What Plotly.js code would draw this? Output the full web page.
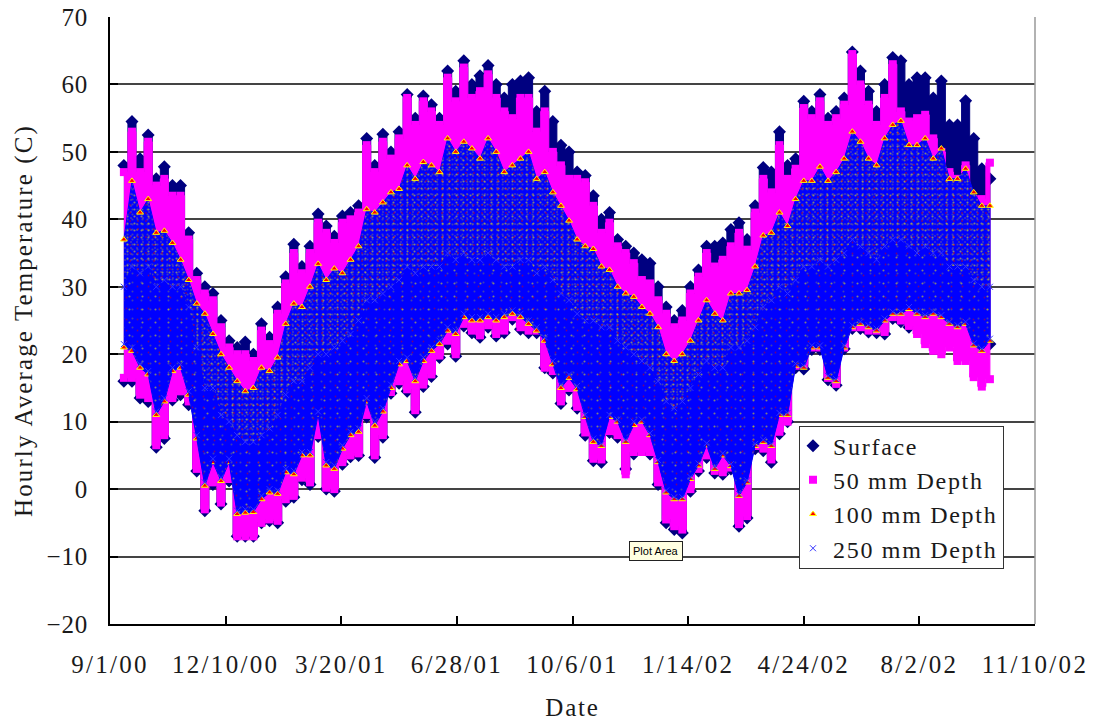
<!DOCTYPE html>
<html><head><meta charset="utf-8">
<script src="https://cdn.plot.ly/plotly-3.0.1.min.js"></script>
<style>
html,body{margin:0;padding:0;background:#fff}
.ytick text{letter-spacing:.8px}
.xtick text{letter-spacing:2.3px}
.ytitle{letter-spacing:2.1px}
.xtitle{letter-spacing:1.8px}
.legendtext{letter-spacing:1.7px}
</style></head><body><div id="chart" style="width:1093px;height:721px"></div>
<script>
const days=[12,19,26,33,40,47,54,61,68,75,82,89,96,103,110,117,124,131,138,145,152,159,166,173,180,187,194,201,208,215,222,229,236,243,250,257,264,271,278,285,292,299,306,313,320,327,334,341,348,355,362,369,376,383,390,397,404,411,418,425,432,439,446,453,460,467,474,481,488,495,502,509,516,523,530,537,544,551,558,565,572,579,586,593,600,607,614,621,628,635,642,649,656,663,670,677,684,691,698,705,712,719,726,733,740,747,754,761];
const surfaceHigh=[48,54.5,49,52.5,46,47.8,45,45,38,32,30,29,25,22,21,21.8,20,24.5,22.5,27,31.5,36.3,33,36,40.8,39,37.5,40.5,41,42,52,48,52.6,50,53,58.5,55,58.3,57,55,62,59,63.5,60,61.3,62.8,60,58,60,60.5,61,56,59,54.5,51,50,47,46.5,43.5,40,41,37,36,35,34,33.5,30,27,25,26.5,30,32.5,36,36,36.5,38.5,39.5,37,42,47.7,47,53,48,49,57.5,56,58.5,55,56,58,64.8,62,59,56,60,64,63.5,60,61,61,58,60.5,54,54,57.6,52,47.5,46];
const surfaceLow=[16,16,13.5,13,6.2,7.5,13.2,14,12.5,2.7,-3.2,0.7,-2.2,1.2,-7,-7,-7,-5,-4.7,-5,-1.8,-1.2,1.4,0.7,7.8,0,-0.3,3.7,4.8,5,10.7,4.7,7.7,14.2,15.7,14.5,11.4,15.2,16.7,19.5,21.5,19.7,24.2,23.2,22.5,24,22.7,23.2,25.2,23.7,23.2,23.2,18,17.2,12.7,14.7,12,8,4.2,4,8.4,7.7,3,5.2,8,5.2,0.7,-5,-6,-6.5,-0.3,2.7,4.7,2.4,2.2,3,-5.5,-4.3,6,5.7,4,8.2,10,18,17.8,20.7,20.7,16.2,15.4,20.8,23.8,23.8,23.3,23.2,23,25.3,24.8,24,24.5,24.5,24.5,24.5,24,24,24,21,20.3,21.5];
const mm50High=[47,53,47,51.5,45,46,43.5,43.5,37,31,29,28,24,21,20,20,19,23.5,21.5,26,30.5,35,32,35,39.5,38,36.5,39.5,40,41,51,47,51.5,49,52,58,54,57.5,56,54,61,57.5,62.5,58,59,61.5,58,56,55,58,58,53,56,50,48,46,46,45.5,42,38,39.5,36,35,33.5,31,30.5,28,26,24,25,29,31.5,35,33,34,36,38,35.5,41,46,44,51,46,47.5,56.5,55,57.5,54,55,57,64.5,60,57,54,58,63,56,54.5,55,55.5,52,50,47,46,48,43,43,48.4];
const mm50Low=[16.5,16.5,14,13.5,6.5,8,13.5,14.5,13,3,-3,1,-2,1.5,-7,-7,-7,-5,-4.5,-4.7,-1.5,-1,1.7,1,8,0.2,0,4,5,5.3,11,5,8,14.4,16,14.8,11.7,15.5,17,19.8,22,20,24.5,23.5,22.8,24.3,23,23.5,25.5,24,23.5,23.5,18,17.5,13,15,12.2,8.4,4.5,4.4,8.6,8,2.2,5.5,5.5,5.5,1,-4.5,-5.5,-6,0,3,5,2.7,2.5,3.2,-5.2,-4,6.4,6,4.4,8.5,10,18.3,18.5,21,21,16.5,15.6,21,24,24,23.5,23.5,23.3,25.5,25,24.2,23,21.5,20.5,20,21,19,19,16.6,15.2,16.3];
const mm100High=[37,45.7,41,43,38,38.3,36.5,34,31,27.5,26,23,20,18,16,14.5,15,18,17.5,19.5,24.5,27.5,27,30,33.4,31,32.7,32,34,36,41.5,41,42.5,44,44.5,48,46,48.5,48,47,52,50,51.5,50.5,49,52,50,47,48,49,50,46,47,44,42,39.8,37,36,35.6,33,32.5,30,29,28.5,27,26,24,20,19,20,22,25,28,26,25,29,29,29.5,33,37.6,38,41,39,43,45.7,45.7,47.8,45.7,47,49,53,51.5,49,48,52,54,54.6,51,51,52,49,50.5,46,46,47.5,44,42,42];
const mm100Low=[21,20.5,18,17,11,13,17.5,18,14,7.5,0.5,4,1.2,4,-3.7,-3.5,-3.4,-1.5,-0.5,-0.7,2.5,2.2,5,5,11,3.5,3,6,8,8.5,13,9.4,11.5,15,18.5,19,16,19,20.5,21.5,23.5,23,25.5,25,25,25.5,25,25.5,26,25.5,24.5,23.5,22,18.5,15,16.5,14.8,10.7,7,6.4,10.7,10,7,9.5,10,8,4,-0.5,-1.5,-1.5,1.5,3.5,6.5,3,5,3.4,-1,1,6.4,7,6.4,11,11,18.3,18,21,21,16.5,16,21,24,24.5,24,23.5,25,26,26,26.7,26,25.5,26,25.5,24.5,24,24.5,21.3,20.5,22];
const mm250High=[30,33,32,33,30,31,30,30,27,21,15,15,11,10,8,7,7,8,9,11,14,16,16,18,20,20,21,22,23,25,28,28,29,30,31,33,32,33,33,33,35,34,35,34,34,35,34,33,33,34,34,32,33,31,29,28,26,25,25,24,24,22,21,20,19,18,16,13,12,13,15,17,19,18,18,21,21,22,24,27,28,30,29,31,33,33,34,33,34,35,37,36,35,34,36,37,37,36,35,36,35,35,33,33,33,31,30,30];
const mm250Low=[21.5,21,18.5,17.5,11.5,13.5,18,18.5,14.5,8,1,4.5,1.7,4.5,-3.2,-3,-3,-1,0,-0.2,3,2.7,5.5,5.5,11.5,4,3.5,6.5,8.5,9,13.5,10,12,15.5,19,19.5,16.5,19.5,21,22,24,23.5,26,25.5,25.5,26,25.5,26,26.5,26,25,24,22.5,19,15.5,17,15.3,11,7.5,6.7,11,10.3,7.3,10,10.3,8.3,4.3,-0.2,-1.2,-1.2,1.8,3.8,6.8,3.3,5.3,3.7,-0.7,1.3,6.7,7.3,6.7,11.3,11.3,18.6,18.3,21.3,21.3,16.8,16.3,21.3,24.3,24.8,24.3,23.8,25.3,26.3,26.3,27,26.3,25.8,26.3,25.8,24.8,24.3,24.8,21.6,20.8,22.3];
const legendNames=['Surface','50 mm Depth','100 mm Depth','250 mm Depth'];
const xTickVals=[0,100,200,300,400,500,600,700,800];
const xTickText=['9/1/00','12/10/00','3/20/01','6/28/01','10/6/01','1/14/02','4/24/02','8/2/02','11/10/02'];
const yTickVals=[-20,-10,0,10,20,30,40,50,60,70];

const ringX=days.concat(days.slice().reverse());
const ring=(hi,lo)=>hi.concat(lo.slice().reverse());
const px2=days.concat(days);
function band(hi,lo,color,shape){return {x:ringX,y:ring(hi,lo),mode:'lines',fill:'toself',fillcolor:color,
  line:{color:color,width:1,shape:shape},hoverinfo:'skip',showlegend:false,type:'scatter'};}
function speck(hi,lo,fg,size,solidity,shape){return {x:ringX,y:ring(hi,lo),mode:'none',fill:'toself',fillcolor:'rgba(0,0,0,0)',
  fillpattern:{shape:shape||'.',fillmode:'overlay',bgcolor:'rgba(0,0,0,0)',fgcolor:fg,size:size,solidity:solidity},hoverinfo:'skip',showlegend:false,type:'scatter'};}
function dots(hi,lo,name,marker){return {x:px2,y:hi.concat(lo),mode:'markers',name:name,marker:marker,type:'scatter',hoverinfo:'skip'};}

const data=[
 band(surfaceHigh,surfaceLow,'#000080','hvh'),
 dots(surfaceHigh,surfaceLow,legendNames[0],{symbol:'diamond',size:10,color:'#000080'}),
 band(mm50High,mm50Low,'#ff00ff','hvh'),
 dots(mm50High,mm50Low,legendNames[1],{symbol:'square',size:8,color:'#ff00ff'}),
 band(mm100High,mm100Low,'#0000ff','linear'),
 speck(mm100High,mm100Low,'#808060',5,0.14),
 speck(mm100High,mm100Low,'#ffff00',7,0.07),
 speck(mm100High,mm100Low,'#ffcc00',6,0.05),
 speck(mm100High,mm100Low,'#e00000',8,0.05),
 dots(mm100High,mm100Low,legendNames[2],{symbol:'triangle-up',size:6,color:'#ff0000',line:{color:'#ffff00',width:1}}),
 band(mm250High,mm250Low,'#0000ff','linear'),
 speck(mm250High,mm250Low,'#808060',9,0.04),
 speck(mm250High,mm250Low,'#ffff00',13,0.02),
 speck(mm250High,mm250Low,'#e00000',11,0.02),
 dots(mm250High,mm250Low,legendNames[3],{symbol:'x-thin',size:6,color:'#5555ff',line:{color:'#3333ff',width:1}})
];
const font={family:'"Liberation Serif",serif',size:25,color:'#1a1a1a'};
const layout={
 width:1093,height:721,paper_bgcolor:'#fff',plot_bgcolor:'#fff',font:font,showlegend:true,
 margin:{l:110,r:58,t:17,b:97,pad:0},
 xaxis:{range:[0,800],tickmode:'array',tickvals:xTickVals,ticktext:xTickText,ticks:'inside',ticklen:8,tickwidth:2,tickcolor:'#000',
   showline:true,linecolor:'#000',linewidth:2,showgrid:false,zeroline:false,ticklabelstandoff:17,
   title:{text:'Date',standoff:21,font:font}},
 yaxis:{range:[-20,70],tickmode:'array',tickvals:yTickVals,ticks:'inside',ticklen:8,tickwidth:2,tickcolor:'#000',
   showline:true,linecolor:'#000',linewidth:2,showgrid:true,gridcolor:'#444',gridwidth:1.5,zeroline:false,ticklabelstandoff:15,
   title:{text:'Hourly Average Temperature (C)',standoff:7,font:font}},
 legend:{x:0.7373,y:0.3319,xanchor:'left',yanchor:'top',bgcolor:'#fff',bordercolor:'#333',borderwidth:1,font:Object.assign({},font,{size:24}),itemsizing:'trace',tracegroupgap:0},
 shapes:[{type:'line',xref:'paper',yref:'paper',x0:1,x1:1,y0:0,y1:1,line:{color:'#999',width:1.5}}],
 annotations:[{xref:'paper',yref:'paper',x:0.5903,y:0.1203,xanchor:'center',yanchor:'middle',text:'Plot Area',showarrow:false,bgcolor:'#ffffe1',bordercolor:'#222',borderwidth:1,borderpad:3,
   font:{family:'"Liberation Sans",sans-serif',size:11,color:'#000'}}]
};
Plotly.newPlot('chart',data,layout,{displayModeBar:false,responsive:false}).then(()=>{
  const bg=document.querySelector('.legend rect.bg');
  if(bg){const x=parseFloat(bg.getAttribute('x')||0),w=parseFloat(bg.getAttribute('width')),
    y=parseFloat(bg.getAttribute('y')||0),h=parseFloat(bg.getAttribute('height'));
    bg.setAttribute('x',x+7);bg.setAttribute('width',w-7);bg.setAttribute('y',y+3);bg.setAttribute('height',h-6);}
});
</script></body></html>
